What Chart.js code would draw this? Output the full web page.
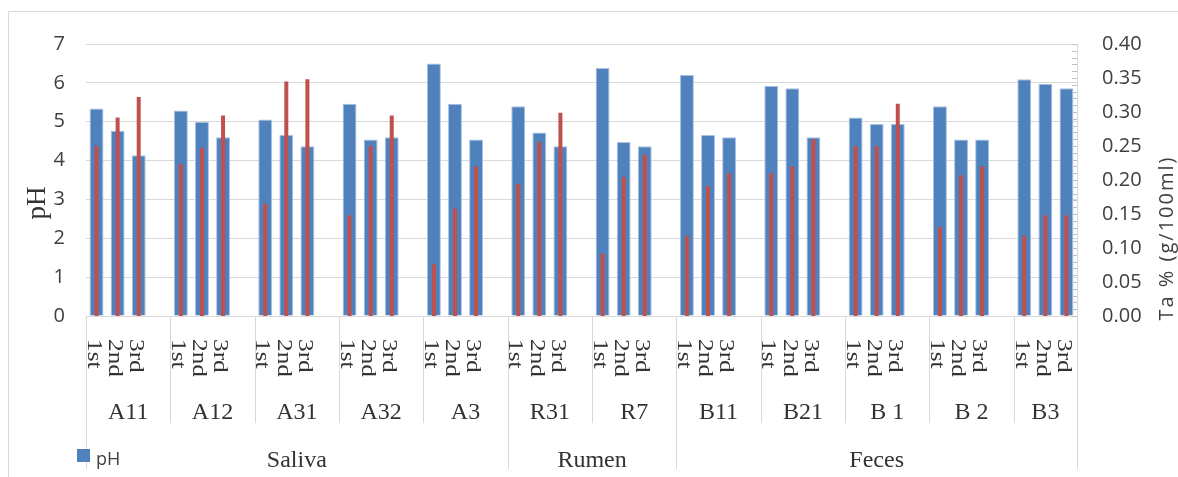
<!DOCTYPE html>
<html>
<head>
<meta charset="utf-8">
<script src="https://cdn.jsdelivr.net/npm/chart.js@4.4.1/dist/chart.umd.min.js"></script>
<style>
  html, body { margin: 0; padding: 0; background: #fff; }
  #wrap { width: 1178px; height: 477px; position: relative; }
</style>
</head>
<body>
<div id="wrap"><canvas id="c" width="1178" height="477"></canvas></div>
<script>
// Samples, grouped by the material they were taken from
const samples = ['A11', 'A12', 'A31', 'A32', 'A3', 'R31', 'R7', 'B11', 'B21', 'B 1', 'B 2', 'B3'];
const sources = ['Saliva', 'Rumen', 'Feces'];
const samplesPerSource = [5, 2, 5];
const times = ['1st', '2nd', '3rd'];

// pH per sample, one array per measurement
const ph1st = [5.34, 5.29, 5.06, 5.46, 6.50, 5.40, 6.38, 6.20, 5.92, 5.11, 5.40, 6.09];
const ph2nd = [4.77, 5.00, 4.66, 4.54, 5.46, 4.72, 4.48, 4.66, 5.86, 4.94, 4.54, 5.98];
const ph3rd = [4.14, 4.60, 4.37, 4.60, 4.54, 4.37, 4.37, 4.60, 4.60, 4.94, 4.54, 5.86];

// Titratable acidity, Ta % (g/100ml)
const ta1st = [0.250, 0.223, 0.165, 0.148, 0.076, 0.194, 0.092, 0.118, 0.210, 0.250, 0.131, 0.118];
const ta2nd = [0.292, 0.247, 0.345, 0.250, 0.158, 0.256, 0.204, 0.191, 0.220, 0.250, 0.207, 0.148];
const ta3rd = [0.322, 0.295, 0.348, 0.295, 0.220, 0.299, 0.237, 0.210, 0.260, 0.312, 0.220, 0.148];

// Axis ticks
const phTicks = [0, 1, 2, 3, 4, 5, 6, 7];
const taTicks = [0, 0.05, 0.10, 0.15, 0.20, 0.25, 0.30, 0.35, 0.40];

// Flatten into one category axis: 1st/2nd/3rd per sample, an empty slot between samples
const phSeries = [ph1st, ph2nd, ph3rd];
const taSeries = [ta1st, ta2nd, ta3rd];
const labels = [], phData = [], taData = [], sampleStart = [];
samples.forEach((s, g) => {
  sampleStart.push(labels.length);
  times.forEach((t, k) => {
    labels.push(t);
    phData.push(phSeries[k][g]);
    taData.push(taSeries[k][g]);
  });
  if (g < samples.length - 1) { labels.push(''); phData.push(null); taData.push(null); }
});
sampleStart.push(labels.length);

const BLUE = '#4F81BD', RED = '#C0504D', GRID = '#D9D9D9', TXT = '#404040', SERIF_TXT = '#333333';
const SANS = '"Open Sans", "Liberation Sans", sans-serif';
const SERIF = '"Liberation Serif", "DejaVu Serif", serif';

const decorations = {
  id: 'decorations',
  beforeDraw(chart) {
    const ctx = chart.ctx;
    ctx.save();
    ctx.fillStyle = '#fff';
    ctx.fillRect(0, 0, chart.width, chart.height);
    // outer frame
    ctx.strokeStyle = GRID;
    ctx.lineWidth = 1;
    ctx.beginPath();
    ctx.moveTo(8.5, chart.height);
    ctx.lineTo(8.5, 11.5);
    ctx.lineTo(chart.width, 11.5);
    ctx.stroke();
    ctx.restore();
  },
  afterDraw(chart) {
    const ctx = chart.ctx;
    const xs = chart.scales.x, y2 = chart.scales.y2;
    const area = chart.chartArea;
    const n = labels.length;
    const w = (xs.right - xs.left) / n;
    const edge = i => xs.left + i * w;
    ctx.save();

    // minor tick marks on the secondary axis
    ctx.strokeStyle = '#BFBFBF';
    ctx.lineWidth = 1;
    ctx.beginPath();
    for (let v = 0; v <= 40; v++) {
      const y = Math.round(y2.getPixelForValue(v / 100)) + 0.5;
      ctx.moveTo(area.right - 5, y);
      ctx.lineTo(area.right, y);
    }
    ctx.stroke();

    // separators below the plot
    const sourceEdges = [0];
    samplesPerSource.forEach(c => sourceEdges.push(sourceEdges[sourceEdges.length - 1] + c));
    ctx.strokeStyle = GRID;
    ctx.beginPath();
    sampleStart.forEach((start, g) => {
      const x = Math.round(edge(start)) + 0.5;
      const tall = sourceEdges.includes(g);
      ctx.moveTo(x, area.bottom);
      ctx.lineTo(x, tall ? 469 : 423);
    });
    ctx.stroke();

    // measurement labels, turned to read downwards
    ctx.fillStyle = SERIF_TXT;
    ctx.font = '22px ' + SERIF;
    ctx.textAlign = 'left';
    ctx.textBaseline = 'middle';
    labels.forEach((t, i) => {
      if (!t) return;
      const x = xs.getPixelForValue(i) - 3;
      ctx.save();
      ctx.translate(x, 339);
      ctx.rotate(Math.PI / 2);
      ctx.scale(1.15, 1);
      ctx.fillText(t, 0, 0);
      ctx.restore();
    });

    // sample labels
    ctx.font = '24px ' + SERIF;
    ctx.textAlign = 'center';
    ctx.textBaseline = 'alphabetic';
    samples.forEach((s, g) => {
      const cx = (edge(sampleStart[g]) + edge(sampleStart[g + 1])) / 2;
      ctx.fillText(s, cx, 419);
    });

    // source labels
    sources.forEach((s, k) => {
      const a = edge(sampleStart[sourceEdges[k]]);
      const b = edge(sampleStart[sourceEdges[k + 1]]);
      ctx.fillText(s, (a + b) / 2, 467);
    });

    // legend
    ctx.fillStyle = BLUE;
    ctx.fillRect(77, 449, 13, 13);
    ctx.fillStyle = TXT;
    ctx.font = '18px ' + SANS;
    ctx.textAlign = 'left';
    ctx.fillText(chart.data.datasets[1].label, 96, 465);

    // axis titles
    ctx.save();
    ctx.translate(38, 203);
    ctx.rotate(-Math.PI / 2);
    ctx.font = '27px ' + SERIF;
    ctx.textAlign = 'center';
    ctx.textBaseline = 'middle';
    ctx.fillStyle = SERIF_TXT;
    ctx.fillText('pH', 0, 0);
    ctx.restore();

    ctx.save();
    ctx.translate(1167, 238);
    ctx.rotate(-Math.PI / 2);
    ctx.font = '20px ' + SANS;
    ctx.letterSpacing = '2px';
    ctx.textAlign = 'center';
    ctx.textBaseline = 'middle';
    ctx.fillStyle = TXT;
    ctx.fillText('Ta % (g/100ml)', 0, 0);
    ctx.restore();

    ctx.restore();
  }
};

new Chart(document.getElementById('c'), {
  type: 'bar',
  data: {
    labels: labels,
    datasets: [
      {
        label: 'Ta % (g/100ml)',
        data: taData,
        yAxisID: 'y2',
        backgroundColor: RED,
        borderWidth: 0,
        grouped: false,
        categoryPercentage: 1,
        barPercentage: 0.19,
        order: 0
      },
      {
        label: 'pH',
        data: phData,
        yAxisID: 'y',
        backgroundColor: BLUE,
        borderColor: '#A9C2E2',
        borderWidth: 1,
        grouped: false,
        categoryPercentage: 1,
        barPercentage: 0.66,
        order: 1
      }
    ]
  },
  options: {
    responsive: false,
    animation: false,
    devicePixelRatio: 1,
    layout: { padding: { top: 44, left: 0, right: 0, bottom: 0 } },
    plugins: { legend: { display: false }, tooltip: { enabled: false } },
    scales: {
      x: {
        offset: true,
        grid: { display: false },
        border: { display: false },
        ticks: { display: false },
        afterFit(scale) { scale.height = 161; }
      },
      y: {
        position: 'left',
        min: 0, max: 7,
        afterBuildTicks(scale) { scale.ticks = phTicks.map(v => ({ value: v })); },
        grid: { color: GRID, lineWidth: 1, drawTicks: false },
        border: { display: false },
        ticks: { padding: 21, color: TXT, font: { family: SANS, size: 20 } },
        afterFit(scale) { scale.width = 86; }
      },
      y2: {
        position: 'right',
        min: 0, max: 0.4,
        afterBuildTicks(scale) { scale.ticks = taTicks.map(v => ({ value: v })); },
        grid: { display: false, drawTicks: false },
        border: { display: true, color: GRID },
        ticks: {
          padding: 25, color: TXT, font: { family: SANS, size: 20 },
          callback: v => Number(v).toFixed(2)
        },
        afterFit(scale) { scale.width = 101; }
      }
    }
  },
  plugins: [decorations]
});
</script>
</body>
</html>
